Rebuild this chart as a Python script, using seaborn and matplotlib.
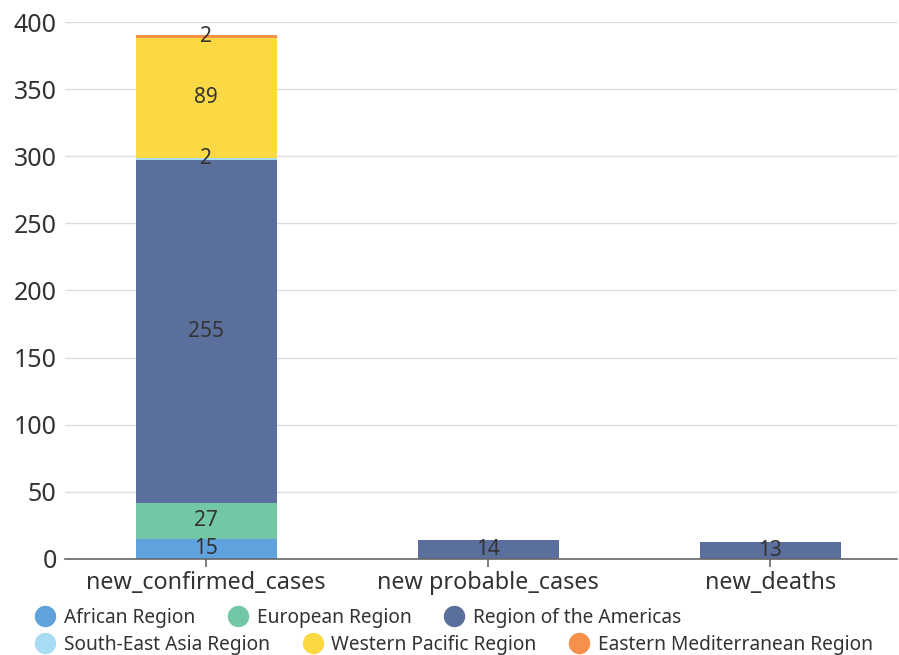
import matplotlib
matplotlib.use("Agg")
import matplotlib.pyplot as plt
from matplotlib.lines import Line2D
import seaborn as sns
import pandas as pd
import numpy as np

# Metrics on the x axis and WHO regions stacked inside each bar
metrics = ["new_confirmed_cases", "new probable_cases", "new_deaths"]
regions = ["African Region", "European Region", "Region of the Americas",
           "South-East Asia Region", "Western Pacific Region",
           "Eastern Mediterranean Region"]
african = [15, 0, 0]
european = [27, 0, 0]
americas = [255, 14, 13]
south_east_asia = [2, 0, 0]
western_pacific = [89, 0, 0]
eastern_med = [2, 0, 0]
colors = ["#5fa2dd", "#72c8a4", "#5b6f9c", "#a8dcf5", "#fbd944", "#f5914a"]
y_ticks = [0, 50, 100, 150, 200, 250, 300, 350, 400]

series = [african, european, americas, south_east_asia, western_pacific, eastern_med]

sns.set_theme(style="white")
plt.rcParams["font.family"] = ["Noto Sans", "DejaVu Sans"]
text_color = "#333333"

fig = plt.figure(figsize=(8.99, 6.55), dpi=100)
ax = fig.add_axes([0.0723, 0.1466, 0.9257, 0.8198])

rows = []
for reg, vals in zip(regions, series):
    for m, v in zip(metrics, vals):
        rows.append({"metric": m, "region": reg, "value": v})
df = pd.DataFrame(rows)
df["top"] = df.groupby("metric")["value"].cumsum()

# draw cumulative totals from the top layer down so each layer shows its own segment
for reg, col in reversed(list(zip(regions, colors))):
    sub = df[df["region"] == reg]
    sns.barplot(data=sub, x="metric", y="top", order=metrics, color=col,
                width=0.5, saturation=1, ax=ax, zorder=2, linewidth=0)

# segment value labels
for i, m in enumerate(metrics):
    sub = df[df["metric"] == m]
    for _, r in sub.iterrows():
        if r["value"] > 0:
            ax.text(i, r["top"] - r["value"] / 2, f"{r['value']:g}",
                    ha="center", va="center", fontsize=15, color=text_color,
                    zorder=3)

ax.set_xlim(-0.5, 2.45)
ax.set_ylim(0, 400)
ax.set_yticks(y_ticks)
ax.set_yticklabels([str(t) for t in y_ticks])
ax.set_xlabel("")
ax.set_ylabel("")
ax.grid(axis="y", color="#dddddd", linewidth=1.0, zorder=0)
ax.grid(axis="x", visible=False)
ax.set_axisbelow(True)
for s in ["left", "right", "top"]:
    ax.spines[s].set_visible(False)
ax.spines["bottom"].set_color("#666666")
ax.spines["bottom"].set_linewidth(1.2)
ax.tick_params(axis="y", length=0, pad=6, labelsize=18, labelcolor=text_color)
ax.tick_params(axis="x", length=6, width=1.2, color="#666666", pad=3,
               labelsize=16.8, labelcolor=text_color, bottom=True)

def handles(idx):
    return [Line2D([0], [0], marker="o", linestyle="none", markersize=14.4,
                   markerfacecolor=colors[i], markeredgecolor=colors[i])
            for i in idx]

leg_kw = dict(frameon=False, ncol=3, fontsize=13.8, handletextpad=0.48,
              columnspacing=1.72, labelcolor=text_color, borderaxespad=0,
              borderpad=0, handlelength=1.0)
fig.legend(handles(range(3)), regions[:3], loc="center left",
           bbox_to_anchor=(0.0396, 0.0565), **leg_kw)
fig.legend(handles(range(3, 6)), regions[3:], loc="center left",
           bbox_to_anchor=(0.0396, 0.0150), **leg_kw)

fig.savefig("out.png", dpi=100)
